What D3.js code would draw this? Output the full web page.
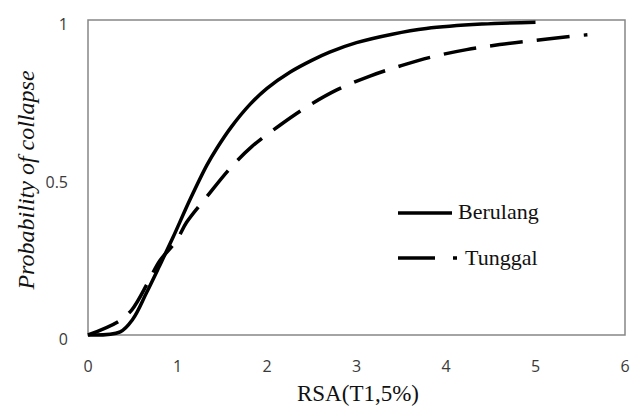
<!DOCTYPE html>
<html>
<head>
<meta charset="utf-8">
<script src="https://cdn.jsdelivr.net/npm/d3@7"></script>
<style>
    body { margin: 0; background: #fff; }
    svg { display: block; }
</style>
</head>
<body>
<svg id="chart" width="632" height="408"></svg>
<script>
// fragility curves
var berulangX = [0, 0.36, 0.5, 0.655, 0.8, 0.95, 1.14, 1.33, 1.44, 1.6, 1.81, 2.0, 2.26, 2.5, 2.7, 3.0, 3.4, 3.78, 4.4, 5.0];
var berulangP = [0, 0.01, 0.05, 0.135, 0.22, 0.31, 0.43, 0.54, 0.593, 0.66, 0.732, 0.783, 0.835, 0.872, 0.898, 0.928, 0.955, 0.973, 0.987, 0.993];

var tunggalX = [0, 0.34, 0.49, 0.67, 0.8, 0.99, 1.1, 1.33, 1.59, 1.83, 2.14, 2.45, 2.78, 3.15, 3.5, 3.86, 4.23, 4.6, 4.99, 5.39, 5.58];
var tunggalP = [0, 0.043, 0.08, 0.167, 0.235, 0.30, 0.357, 0.44, 0.53, 0.598, 0.665, 0.725, 0.778, 0.822, 0.855, 0.884, 0.906, 0.922, 0.935, 0.948, 0.953];

var xTicks = [0, 1, 2, 3, 4, 5, 6];
var yTicks = [0, 0.5, 1];

var seriesNames = ['Berulang', 'Tunggal'];

var svg = d3.select('#chart');
var margin = {top: 20, right: 7, bottom: 73, left: 88};
var w = 632, h = 408;

var xScale = d3.scaleLinear().domain([0, 6]).range([margin.left, w - margin.right]);
var yScale = d3.scaleLinear().domain([0, 1]).range([h - margin.bottom, margin.top]);

// frame
svg.append('rect')
    .attr('x', xScale(0))
    .attr('y', yScale(1))
    .attr('width', xScale(6) - xScale(0))
    .attr('height', yScale(0) - yScale(1))
    .style('fill', 'none')
    .style('stroke', '#868686')
    .style('stroke-width', 1.5);

// tick labels
svg.append('g').selectAll('text')
    .data(xTicks)
    .enter().append('text')
    .attr('x', d => xScale(d))
    .attr('y', yScale(0) + 37)
    .attr('text-anchor', 'middle')
    .style('font-family', '"Open Sans", sans-serif')
    .style('font-size', '16px')
    .style('fill', '#3a3a3a')
    .text(d => d);

svg.append('g').selectAll('text')
    .data(yTicks)
    .enter().append('text')
    .attr('x', xScale(0) - 20)
    .attr('y', d => yScale(d) + 10)
    .attr('text-anchor', 'end')
    .style('font-family', '"Open Sans", sans-serif')
    .style('font-size', '16px')
    .style('fill', '#3a3a3a')
    .text(d => d);

// axis titles
svg.append('text')
    .attr('x', 358)
    .attr('y', 401)
    .attr('text-anchor', 'middle')
    .style('font-family', '"Liberation Serif", serif')
    .style('font-size', '23px')
    .style('fill', '#111')
    .text('RSA(T1,5%)');

svg.append('text')
    .attr('transform', 'translate(34,180) rotate(-90)')
    .attr('text-anchor', 'middle')
    .style('font-family', '"Liberation Serif", serif')
    .style('font-style', 'italic')
    .style('font-size', '24px')
    .style('fill', '#111')
    .text('Probability of collapse');

var line = d3.line()
    .x(d => xScale(d[0]))
    .y(d => yScale(d[1]))
    .curve(d3.curveCatmullRom.alpha(0.5));

var berulang = berulangX.map((x, i) => [x, berulangP[i]]);
var tunggal = tunggalX.map((x, i) => [x, tunggalP[i]]);

svg.append('path')
    .datum(berulang)
    .attr('d', line)
    .style('fill', 'none')
    .style('stroke', '#000')
    .style('stroke-width', 3.5);

var dashed = svg.append('path')
    .datum(tunggal)
    .attr('d', line)
    .style('fill', 'none')
    .style('stroke', '#000')
    .style('stroke-width', 3.5);

// fit the dash period so the line starts with a dash and ends with a dot
var len = dashed.node().getTotalLength();
var n = Math.round((len - 4) / 47);
var period = (len - 4) / n;
dashed.attr('stroke-dasharray', (period * 0.7) + ',' + (period * 0.3));

// legend
var legend = svg.append('g');
legend.append('line')
    .attr('x1', 398).attr('x2', 452)
    .attr('y1', 213).attr('y2', 213)
    .style('stroke', '#000')
    .style('stroke-width', 3.5);
legend.append('line')
    .attr('x1', 398).attr('x2', 435)
    .attr('y1', 258).attr('y2', 258)
    .style('stroke', '#000')
    .style('stroke-width', 3.5);
legend.append('line')
    .attr('x1', 453).attr('x2', 457)
    .attr('y1', 258).attr('y2', 258)
    .style('stroke', '#000')
    .style('stroke-width', 3.5);

legend.selectAll('text.name')
    .data(seriesNames)
    .enter().append('text')
    .attr('class', 'name')
    .attr('x', (d, i) => i === 0 ? 458 : 465)
    .attr('y', (d, i) => i === 0 ? 219 : 265)
    .style('font-family', '"Liberation Serif", serif')
    .style('font-size', '22px')
    .style('fill', '#111')
    .text(d => d);
</script>
</body>
</html>
